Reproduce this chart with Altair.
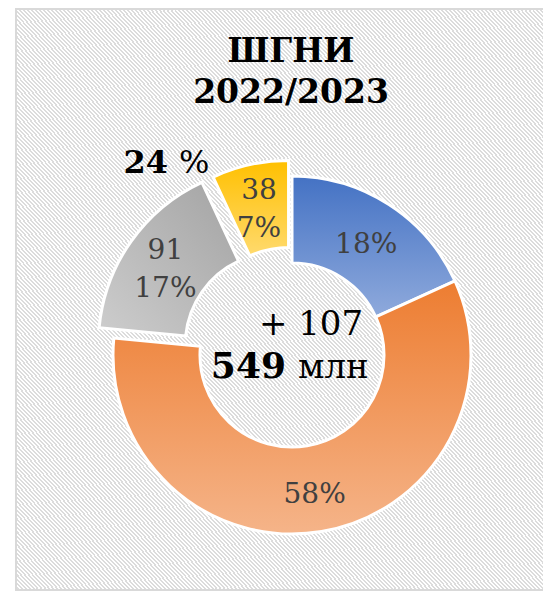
import math
import altair as alt
import pandas as pd

# ---- data ----
categories = ["blue", "orange", "gray", "yellow"]
values = [100, 320, 91, 38]
show_value = [False, False, True, True]
title_lines = ["ШГНИ", "2022/2023"]
delta_label = "+ 107"
total_label = "549"
unit_label = "млн"
share_label = "24"
share_unit = "%"

total = sum(values)
labels = []
for v, s in zip(values, show_value):
    pct = f"{round(v / total * 100)}%"
    labels.append(f"{v}\n{pct}" if s else pct)

df = pd.DataFrame({"cat": categories, "value": values,
                   "order": list(range(len(values))), "label": labels})

# ---- layout / style ----
W, H = 535, 583
CX, CY = 284, 347
R_IN, R_OUT, R_LAB = 92, 179, 137
FONT = "DejaVu Serif"
explode = {"gray": 18, "yellow": 16}
grad_colors = {
    "blue": ("#4472c4", "#8faadc", (0, 0, 0, 1)),
    "orange": ("#ed7d31", "#f5b489", (0, 0, 0, 1)),
    "gray": ("#a3a3a3", "#cdcdcd", (1, 0, 0, 1)),
    "yellow": ("#ffc000", "#ffda6e", (0, 0, 0, 1)),
}

def gradient(c1, c2, d):
    return {"gradient": "linear", "x1": d[0], "y1": d[1], "x2": d[2], "y2": d[3],
            "stops": [{"offset": 0, "color": c1}, {"offset": 1, "color": c2}]}

# offsets of exploded slices along their mid angle
offsets = {}
cum = 0
for c, v in zip(categories, values):
    mid = (cum + v / 2) / total * 2 * math.pi
    e = explode.get(c, 0)
    offsets[c] = (e * math.sin(mid), -e * math.cos(mid))
    cum += v

# hatch background
N = 270
stops = []
for k in range(N):
    a, b, c = k / N, (k + 0.5) / N, (k + 1) / N
    stops += [{"offset": round(a, 6), "color": "#ffffff"},
              {"offset": round(b, 6), "color": "#ffffff"},
              {"offset": round(b, 6), "color": "#dcdcdc"},
              {"offset": round(c, 6), "color": "#dcdcdc"}]
hatch = {"gradient": "linear", "x1": 0, "y1": 1, "x2": 1, "y2": 0, "stops": stops}

dummy = pd.DataFrame({"k": [0]})
bg = alt.Chart(dummy).mark_rect(color=hatch, stroke="#d9d9d9", strokeWidth=2).encode(
    x=alt.value(8), x2=alt.value(W + 10), y=alt.value(1), y2=alt.value(H - 1))

theta_scale = alt.Scale(domain=[0, total], range=[0, 2 * math.pi])

base = alt.Chart(df).transform_window(
    cum="sum(value)", sort=[alt.SortField("order")], frame=[None, 0]
).transform_calculate(start="datum.cum - datum.value", mid="datum.cum - datum.value / 2")

layers = [bg]
for c in categories:
    dx, dy = offsets[c]
    c1, c2, d = grad_colors[c]
    sub = base.transform_filter(alt.datum.cat == c)
    layers.append(sub.mark_arc(innerRadius=R_IN, outerRadius=R_OUT, color=gradient(c1, c2, d),
                               stroke="white", strokeWidth=3).encode(
        theta=alt.Theta("start:Q", scale=theta_scale, stack=None),
        theta2=alt.Theta2("cum:Q"),
        x=alt.value(CX + dx), y=alt.value(CY + dy)))
for c, s in zip(categories, show_value):
    dx, dy = offsets[c]
    sub = base.transform_filter(alt.datum.cat == c)
    layers.append(sub.mark_text(font=FONT, fontSize=28, color="#404040", lineBreak="\n",
                                lineHeight=38, radius=R_LAB, baseline="middle",
                                dy=-15 if s else 5).encode(
        theta=alt.Theta("mid:Q", scale=theta_scale, stack=None),
        text="label:N",
        x=alt.value(CX + dx), y=alt.value(CY + dy)))

def txt(s, x, y, size, bold, align="center"):
    return alt.Chart(pd.DataFrame({"t": [s]})).mark_text(
        font=FONT, fontSize=size, fontWeight="bold" if bold else "normal",
        color="black", align=align, baseline="alphabetic").encode(
        text="t:N", x=alt.value(x), y=alt.value(y))

layers += [
    txt(title_lines[0], 283, 54, 33, True),
    txt(title_lines[1], 283, 95, 33, True),
    txt(share_label, 160, 165, 32, True, "right"),
    txt(share_unit, 171, 165, 32, False, "left"),
    txt(delta_label, 303, 327, 34, False),
    txt(total_label, 278, 370, 36, True, "right"),
    txt(unit_label, 290, 370, 34, False, "left"),
]

chart = alt.layer(*layers).properties(
    width=W, height=H, padding=0, autosize=alt.AutoSizeParams(type="none")
).configure_view(stroke=None)

chart.save("out.html", embed_options={"renderer": "svg", "actions": False})
